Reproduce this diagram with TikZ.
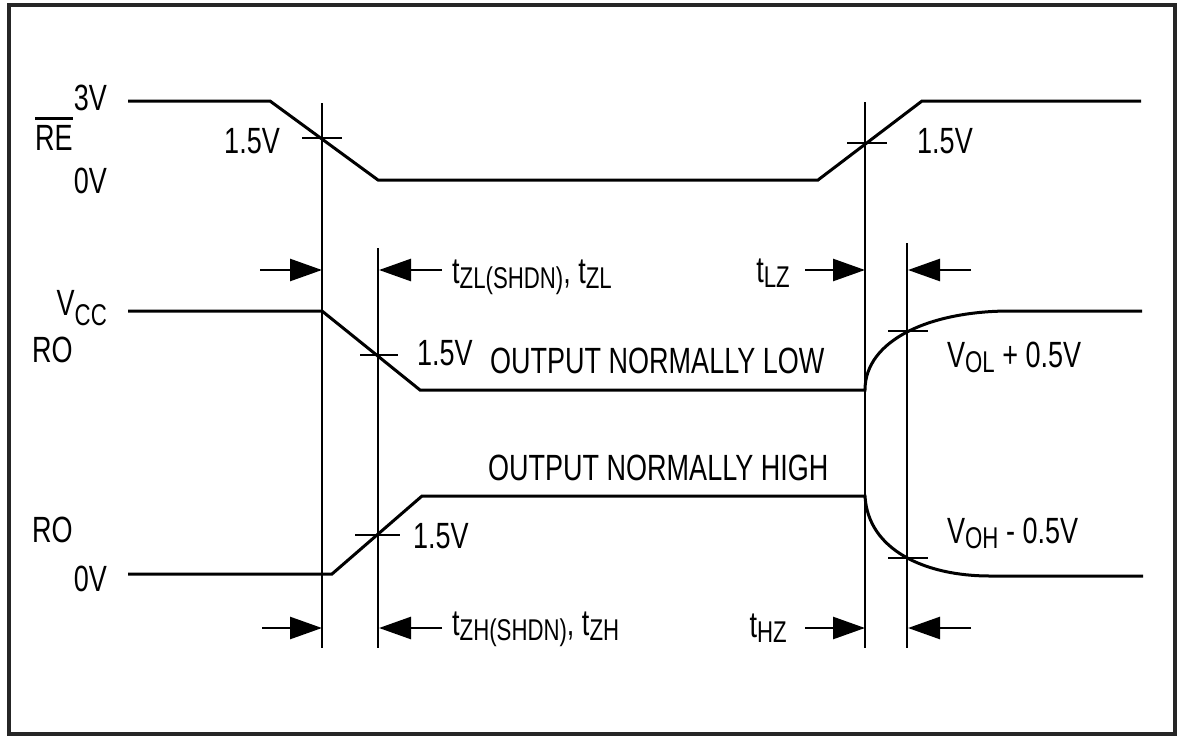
\documentclass[tikz,border=0pt]{standalone}
\usepackage{fontspec}
\setmainfont[FakeStretch=0.74]{Liberation Sans}
\usepackage{tikz}
\usetikzlibrary{positioning, calc, arrows.meta}
\newcommand{\sbs}[2][5pt]{\raisebox{-#1}{\fontsize{30}{31}\selectfont #2}}

\begin{document}
\begin{tikzpicture}[x=1pt, y=-1pt, every node/.style={inner sep=0pt, font=\fontsize{36.5}{40}\selectfont}]
	\tikzstyle{sigline}=[line width=3pt, line join=miter]
	\tikzstyle{guide}=[line width=1.5pt]
	\tikzstyle{timearrow}=[line width=2.6pt, -{Triangle[length=32pt,width=22pt]}]
	\useasboundingbox (0,0) rectangle (1179,737);
	\draw[line width=3.5pt, color=black!85] (9,5) rectangle (1175,734);
	
	% guide lines
	\coordinate (ga) at (322,270);
	\coordinate (gb) at (378,270);
	\coordinate (gc) at (865,270);
	\coordinate (gd) at (907,270);
	\coordinate (ha) at (322,628);
	\coordinate (hb) at (378,628);
	\coordinate (hc) at (865,628);
	\coordinate (hd) at (907,628);
	\draw[guide] (322,103) -- (322,648);
	\draw[guide] (378,248) -- (378,648);
	\draw[guide] (865,102) -- (865,648);
	\draw[guide] (907,243) -- (907,648);
	
	% waveforms
	\draw[sigline] (128,101) -- (270,101) -- (378,180) -- (818,180) -- (922,101) -- (1141,101);
	\draw[sigline] (128,311) -- (322,311) -- (420,390) -- (865,390) .. controls (865,340) and (930,311) .. (1010,311) -- (1142,311);
	\draw[sigline] (128,574) -- (332,574) -- (422,496) -- (865,496) .. controls (868,550) and (925,576) .. (990,576) -- (1143,576);
	
	% crossing ticks
	\draw[guide] (302,138) -- (342,138);
	\draw[guide] (847,143) -- (887,143);
	\draw[guide] (360,355) -- (398,355);
	\draw[guide] (888,331) -- (928,331);
	\draw[guide] (355,535) -- (400,535);
	\draw[guide] (888,558) -- (928,558);
	
	% timing arrows
	\coordinate (ta) at (260,270);
	\coordinate (tb) at (442,270);
	\coordinate (tc) at (805,270);
	\coordinate (td) at (971,270);
	\coordinate (ua) at (262,628);
	\coordinate (ub) at (442,628);
	\coordinate (uc) at (805,628);
	\coordinate (ud) at (971,628);
	\draw[timearrow] (ta) -- (ga);
	\draw[timearrow] (tb) -- ([xshift=1pt]gb);
	\draw[timearrow] (tc) -- (gc);
	\draw[timearrow] (td) -- ([xshift=1pt]gd);
	\draw[timearrow] (ua) -- (ha);
	\draw[timearrow] (ub) -- ([xshift=1pt]hb);
	\draw[timearrow] (uc) -- (hc);
	\draw[timearrow] (ud) -- ([xshift=1pt]hd);
	
	% labels
	\node[anchor=base east] (v3) at (107,110) {3V};
	\node[anchor=base west] (re) at (35,150) {RE};
	\draw[line width=2.4pt] ([yshift=6pt]re.north west) -- ([yshift=6pt]re.north east);
	\node[anchor=base east] (v0) at (107,193) {0V};
	\node[anchor=base east] (l1) at (280,153) {1.5V};
	\node[anchor=base west] (l2) at (917,153) {1.5V};
	\node[anchor=base east] (vcc) at (107,315) {V\sbs[10pt]{CC}};
	\node[anchor=base west] (ro1) at (32,362) {RO};
	\node[anchor=base west] (l3) at (417,365) {1.5V};
	\node[anchor=base west] (lowtxt) at (490,373) {OUTPUT NORMALLY LOW};
	\node[anchor=base west] (hightxt) at (488,480) {OUTPUT NORMALLY HIGH};
	\node[anchor=base west] (ro2) at (32,542) {RO};
	\node[anchor=base east] (v0b) at (107,591) {0V};
	\node[anchor=base west] (l4) at (413,548) {1.5V};
	\node[anchor=base west] (vol) at (947,367) {V\sbs{OL} + 0.5V};
	\node[anchor=base west] (voh) at (947,543) {V\sbs{OH} - 0.5V};
	\node[anchor=base west] (tzl) at (452,283) {t\sbs{ZL(SHDN)}, t\sbs{ZL}};
	\node[anchor=base east] (tlz) at (790,282) {t\sbs{LZ}};
	\node[anchor=base west] (tzh) at (452,635) {t\sbs{ZH(SHDN)}, t\sbs{ZH}};
	\node[anchor=base east] (thz) at (787,637) {t\sbs{HZ}};
\end{tikzpicture}
\end{document}
